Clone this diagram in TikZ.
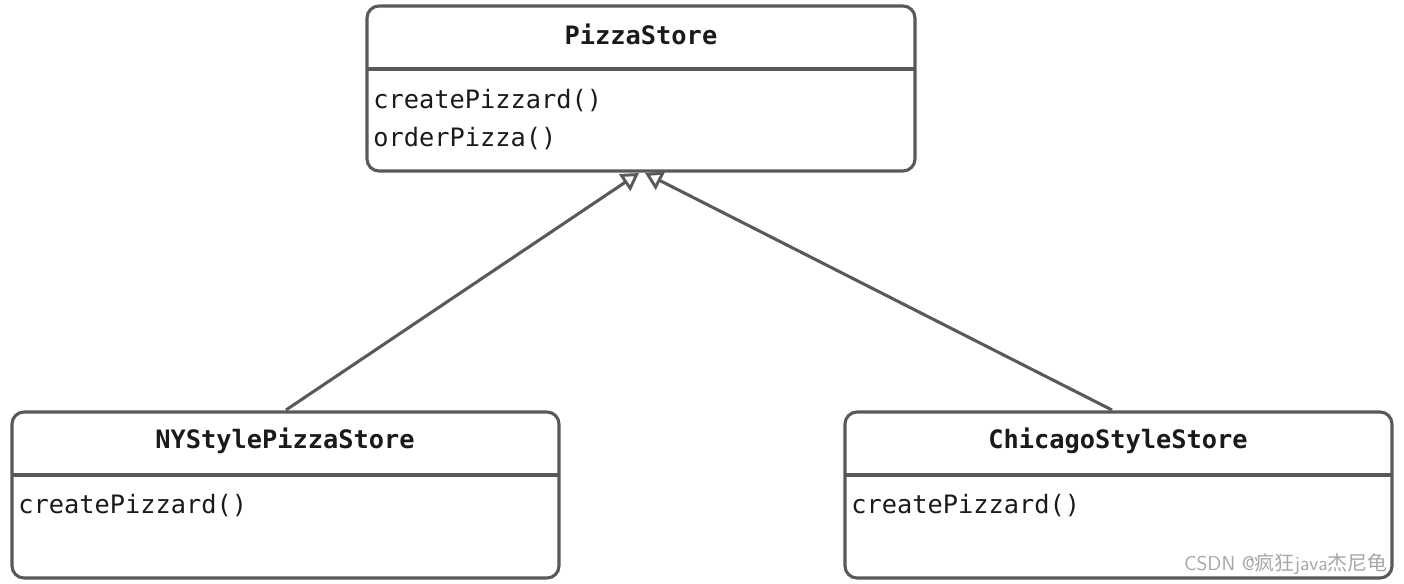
\documentclass[tikz,border=0pt]{standalone}
\usepackage{fontspec}
\setmonofont{DejaVu Sans Mono}
\newfontfamily\cjk{Noto Sans CJK SC}
\usetikzlibrary{arrows.meta}
\definecolor{linec}{HTML}{595959}
\definecolor{txtc}{HTML}{1A1A1A}
\definecolor{wm}{HTML}{A6A6A6}
\tikzset{
  px/.style={x=0.75pt,y=-0.75pt},
  cls/.style={draw=linec,line width=2.3pt,rounded corners=9pt},
  sep/.style={draw=linec,line width=2.3pt},
  ttl/.style={font=\ttfamily\bfseries\fontsize{19}{21}\selectfont,text=txtc,inner sep=0pt},
  mth/.style={font=\ttfamily\fontsize{19}{21}\selectfont,text=txtc,inner sep=0pt,anchor=west},
  inh/.style={draw=linec,line width=2.3pt,-{Triangle[open,length=13pt,width=15pt,line width=2.2pt]}},
}
\begin{document}
\begin{tikzpicture}[px]
\useasboundingbox (0,0) rectangle (1404,584);
% PizzaStore
\draw[cls] (367,6) rectangle (915,171);
\draw[sep] (367,69) -- (915,69);
\node[ttl] (ps) at (641,34) {PizzaStore};
\node[mth] (ps1) at (373,101) {createPizzard()};
\node[mth] (ps2) at (373,139) {orderPizza()};
\coordinate (psA) at (639,173);
\coordinate (psB) at (645,173);
% NY
\draw[cls] (12,412) rectangle (559,578);
\draw[sep] (12,475) -- (559,475);
\node[ttl] (ny) at (285,441) {NYStylePizzaStore};
\node[mth] (ny1) at (18,506) {createPizzard()};
\coordinate (nyT) at (286,410);
% Chicago
\draw[cls] (845,412) rectangle (1392,578);
\draw[sep] (845,475) -- (1392,475);
\node[ttl] (ch) at (1118,441) {ChicagoStyleStore};
\node[mth] (ch1) at (851,506) {createPizzard()};
\coordinate (chT) at (1112,410);
% arrows
\draw[inh] (nyT) -- (psA);
\draw[inh] (chT) -- (psB);
% watermark
\node[font=\sffamily\fontsize{15}{17}\selectfont,text=wm,anchor=east,inner sep=0pt] (wmk) at (1388,564) {CSDN @{\cjk 疯狂}java{\cjk 杰尼龟}};
\end{tikzpicture}
\end{document}
